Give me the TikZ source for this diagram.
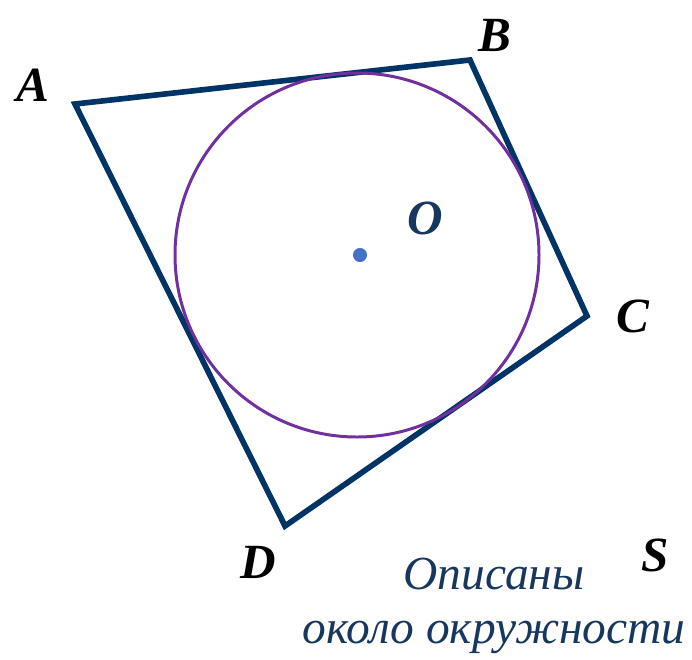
\documentclass[tikz,border=0pt]{standalone}
\usepackage{fontspec}
\setmainfont{Liberation Serif}
\usetikzlibrary{positioning}
\definecolor{quadnavy}{RGB}{0,51,102}
\definecolor{circpurple}{RGB}{112,48,160}
\definecolor{dotblue}{RGB}{68,114,196}
\definecolor{capblue}{RGB}{23,55,94}
\tikzset{
  quad/.style={quadnavy, line width=3.2pt, line join=miter},
  incirc/.style={circpurple, line width=1.7pt},
  vlab/.style={font=\fontsize{28}{30}\selectfont\bfseries\itshape, text=black, inner sep=0pt},
  olab/.style={font=\fontsize{28}{30}\selectfont\bfseries\itshape, text=capblue, inner sep=0pt},
  captext/.style={font=\fontsize{27}{30.5}\selectfont\itshape, text=capblue, inner sep=0pt, align=center},
  cdot/.style={circle, fill=dotblue, inner sep=0pt, minimum size=8pt},
}
\begin{document}
\begin{tikzpicture}[x=0.02cm, y=-0.02cm]
  \useasboundingbox (0,0) rectangle (692,659);
  % vertices of the quadrilateral
  \coordinate (A) at (75,104);
  \coordinate (B) at (470,60);
  \coordinate (C) at (587,316);
  \coordinate (D) at (285,526);
  \coordinate (O) at (357,255);
  \draw[quad] (A) -- (B) -- (C) -- (D) -- cycle;
  \draw[incirc] (O) circle[radius=182];
  \node[cdot] (odot) at (360,255) {};
  % labels
  \node[vlab] (la) at (33,85) {A};
  \node[vlab] (lb) at (495,35) {B};
  \node[vlab] (lc) at (633,316) {C};
  \node[vlab] (ld) at (258,562) {D};
  \node[vlab] (ls) at (655,555) {S};
  \node[olab] (lo) at (425,218) {O};
  \node[captext] (caption) at (494,606) {Описаны\\около окружности};
\end{tikzpicture}
\end{document}
